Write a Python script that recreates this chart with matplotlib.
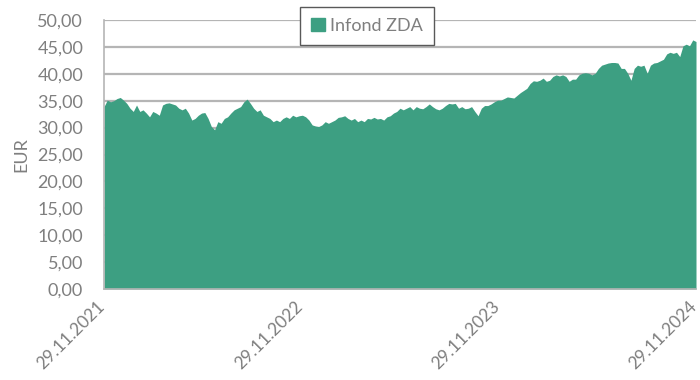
import matplotlib
matplotlib.use('Agg')
import matplotlib.pyplot as plt
import matplotlib.dates as mdates
import matplotlib.transforms as mtransforms
from matplotlib.patches import Patch
from matplotlib.ticker import FuncFormatter
import pandas as pd

# fund unit price, EUR, roughly every 6 days
prices = [
    33.9, 35.1, 34.8, 35.0, 35.4, 35.6, 35.1, 34.5, 33.6, 33.0,
    34.2, 33.0, 33.3, 32.7, 32.0, 33.0, 32.7, 32.3, 34.2, 34.5,
    34.6, 34.4, 34.2, 33.6, 33.3, 33.6, 32.7, 31.4, 31.7, 32.3,
    32.7, 32.8, 31.7, 30.2, 29.6, 31.1, 30.8, 31.7, 32.0, 32.7,
    33.3, 33.6, 33.9, 34.8, 35.3, 34.5, 33.6, 33.0, 33.3, 32.3,
    32.0, 31.7, 31.1, 31.4, 31.1, 31.7, 32.0, 31.7, 32.3, 32.0,
    32.2, 32.3, 32.0, 31.4, 30.5, 30.3, 30.2, 30.5, 31.1, 30.8,
    31.1, 31.4, 31.9, 32.0, 32.2, 31.7, 31.4, 31.7, 31.1, 31.4,
    31.1, 31.7, 31.6, 31.9, 31.6, 31.7, 31.4, 32.0, 32.2, 32.7,
    33.0, 33.6, 33.3, 33.6, 33.9, 33.3, 33.9, 33.6, 33.5, 33.9,
    34.4, 33.9, 33.5, 33.3, 33.6, 34.1, 34.5, 34.4, 34.5, 33.6,
    33.9, 33.5, 33.6, 33.9, 33.0, 32.2, 33.6, 34.1, 34.1, 34.4,
    34.8, 35.1, 35.1, 35.4, 35.7, 35.6, 35.5, 36.0, 36.5, 36.9,
    37.3, 38.2, 38.7, 38.6, 38.8, 39.2, 38.6, 38.8, 39.5, 39.8,
    39.6, 39.8, 39.5, 38.6, 39.0, 39.0, 39.8, 40.1, 40.2, 40.1,
    39.8, 40.1, 41.0, 41.6, 41.8, 42.0, 42.1, 42.1, 42.0, 41.0,
    41.0, 40.1, 38.8, 41.0, 41.6, 41.4, 41.6, 40.1, 41.6, 42.0,
    42.1, 42.4, 42.7, 43.7, 44.0, 43.8, 44.0, 43.2, 45.2, 45.5,
    45.2, 46.3, 46.0,
]
dates = pd.date_range('2021-11-29', '2024-11-29', periods=len(prices))
tick_dates = pd.to_datetime(['2021-11-29', '2022-11-29', '2023-11-29', '2024-11-29'])
series_name = 'Infond ZDA'

green = '#3d9f82'
grey = '#7f7f7f'

plt.rcParams['font.family'] = ['Lato', 'DejaVu Sans']

fig = plt.figure(figsize=(7, 3.8), dpi=100)
ax = fig.add_axes([104 / 700, 91 / 380, 592 / 700, 269 / 380])

ax.fill_between(dates, prices, 0, color=green, lw=0, zorder=2)

ax.set_xlim(tick_dates[0], tick_dates[-1])
ax.set_ylim(0, 50)
ax.set_yticks(range(0, 51, 5))
ax.yaxis.set_major_formatter(FuncFormatter(lambda v, p: f'{v:.2f}'.replace('.', ',')))
ax.set_xticks(tick_dates)
ax.xaxis.set_major_formatter(mdates.DateFormatter('%d.%m.%Y'))

ax.tick_params(axis='y', length=0, colors=grey, labelsize=13, pad=15)
ax.tick_params(axis='x', length=0, colors=grey, labelsize=12.5, pad=7)

# rotated date labels, nudged left so the last one stays inside the figure
shift = mtransforms.ScaledTranslation(-7 / 100, 0, fig.dpi_scale_trans)
for lbl in ax.get_xticklabels():
    lbl.set_rotation(45)
    lbl.set_ha('right')
    lbl.set_va('top')
    lbl.set_rotation_mode('anchor')
    lbl.set_transform(lbl.get_transform() + shift)

ax.grid(axis='y', color='#b5b5b5', lw=1.6, zorder=1)
for s in ['top', 'right']:
    ax.spines[s].set_visible(False)
for s in ['left', 'bottom']:
    ax.spines[s].set_color('#b5b5b5')
    ax.spines[s].set_linewidth(1.2)

ax.set_ylabel('EUR', color=grey, fontsize=13, labelpad=6)

leg = fig.legend(handles=[Patch(color=green, label=series_name)], loc='center',
                 bbox_to_anchor=(367 / 700, 354 / 380), fancybox=False,
                 framealpha=1, edgecolor='#595959', fontsize=13,
                 handlelength=0.75, handleheight=0.75, handletextpad=0.3,
                 borderpad=0.6, borderaxespad=0)
leg.get_frame().set_linewidth(1)
for t in leg.get_texts():
    t.set_color(grey)

fig.savefig('out.png', dpi=100)
